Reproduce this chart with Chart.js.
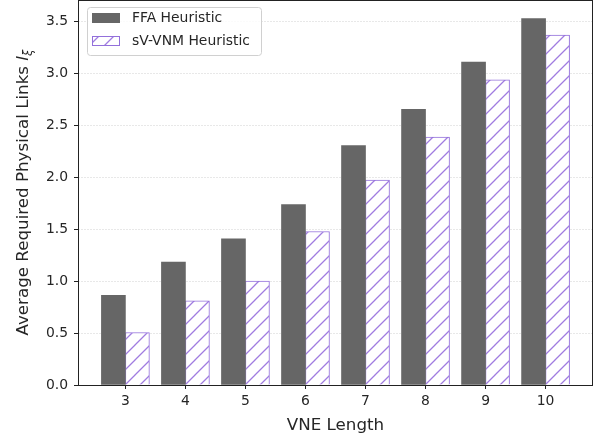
<!DOCTYPE html>
<html>
<head>
<meta charset="utf-8">
<script src="https://cdn.jsdelivr.net/npm/chart.js@4.4.1/dist/chart.umd.min.js"></script>
<style>
  html, body { margin: 0; padding: 0; background: #fff; }
  #wrap { width: 606px; height: 439px; }
</style>
</head>
<body>
<div id="wrap"><canvas id="chart" width="606" height="439"></canvas></div>
<script>
// ── Data ────────────────────────────────────────────────────────────────────────
const vneLengths   = [3, 4, 5, 6, 7, 8, 9, 10];
const ffaValues    = [0.865, 1.184, 1.409, 1.739, 2.308, 2.657, 3.112, 3.531];
const svvnmValues  = [0.506, 0.810, 1.002, 1.479, 1.975, 2.389, 2.940, 3.372];
const yTicks       = [0, 0.5, 1.0, 1.5, 2.0, 2.5, 3.0, 3.5];
const seriesNames  = ['FFA Heuristic', 'sV-VNM Heuristic'];
const xTitle       = 'VNE Length';
const yTitle       = 'Average Required Physical Links ';

const FONT   = "'DejaVu Sans', sans-serif";
const GRAY   = '#666666';
const PURPLE = '#9370db';
const INK    = '#262626';

// diagonal hatch like matplotlib '/'
function makeHatch() {
  const s = 15;
  const c = document.createElement('canvas');
  c.width = s; c.height = s;
  const g = c.getContext('2d');
  g.fillStyle = '#fff'; g.fillRect(0, 0, s, s);
  g.strokeStyle = '#a07ce0'; g.lineWidth = 1.3;
  g.beginPath();
  g.moveTo(-2, s + 2); g.lineTo(s + 2, -2);
  g.moveTo(-2, 2);     g.lineTo(2, -2);
  g.moveTo(s - 2, s + 2); g.lineTo(s + 2, s - 2);
  g.stroke();
  return document.getElementById('chart').getContext('2d').createPattern(c, 'repeat');
}
const hatch = makeHatch();

const toPoints = vals => vals.map((v, i) => ({ x: vneLengths[i], y: v }));

// spines, axis titles and legend drawn like the matplotlib figure
const decor = {
  id: 'decor',
  afterDraw(chart) {
    const { ctx, chartArea: a } = chart;
    ctx.save();
    // spines
    ctx.strokeStyle = '#222'; ctx.lineWidth = 1;
    ctx.strokeRect(Math.round(a.left) + 0.5, Math.round(a.top) + 0.5,
                   Math.round(a.right - a.left) - 1, Math.round(a.bottom - a.top));

    // x title
    ctx.fillStyle = INK;
    ctx.font = `16.7px ${FONT}`;
    ctx.textAlign = 'center'; ctx.textBaseline = 'alphabetic';
    ctx.fillText(xTitle, (a.left + a.right) / 2, 430);

    // y title with italic l and subscript xi
    ctx.translate(28, (a.top + a.bottom) / 2);
    ctx.rotate(-Math.PI / 2);
    ctx.textAlign = 'left';
    ctx.font = `16.7px ${FONT}`;
    const w1 = ctx.measureText(yTitle).width;
    ctx.font = `italic 16.7px ${FONT}`;
    const w2 = ctx.measureText('l').width;
    ctx.font = `italic 11.7px ${FONT}`;
    const w3 = ctx.measureText('ξ').width;
    let x = -(w1 + w2 + w3) / 2;
    ctx.font = `16.7px ${FONT}`;
    ctx.fillText(yTitle, x, 0); x += w1;
    ctx.font = `italic 16.7px ${FONT}`;
    ctx.fillText('l', x, 0); x += w2;
    ctx.font = `italic 11.7px ${FONT}`;
    ctx.fillText('ξ', x, 3.5);
    ctx.restore();

    // legend
    ctx.save();
    const lx = 87, ly = 7, lw = 174, lh = 48;
    ctx.fillStyle = 'rgba(255,255,255,0.8)';
    ctx.strokeStyle = '#d0d0d0'; ctx.lineWidth = 1;
    ctx.beginPath();
    ctx.roundRect(lx + 0.5, ly + 0.5, lw, lh, 3);
    ctx.fill(); ctx.stroke();
    const rows = [
      { y: 13, fill: GRAY, edge: null },
      { y: 36, fill: hatch, edge: PURPLE }
    ];
    ctx.font = `13.9px ${FONT}`;
    ctx.textAlign = 'left'; ctx.textBaseline = 'middle';
    rows.forEach((r, i) => {
      ctx.fillStyle = r.fill;
      ctx.fillRect(92, r.y, 28, 10);
      if (r.edge) {
        ctx.strokeStyle = r.edge;
        ctx.strokeRect(92.5, r.y + 0.5, 27, 9);
      }
      ctx.fillStyle = INK;
      ctx.fillText(seriesNames[i], 132, r.y + 5.5);
    });
    ctx.restore();
  }
};

new Chart(document.getElementById('chart').getContext('2d'), {
  type: 'bar',
  data: {
    datasets: [{
      label: seriesNames[0],
      data: toPoints(ffaValues),
      backgroundColor: GRAY,
      borderWidth: 0,
    }, {
      label: seriesNames[1],
      data: toPoints(svvnmValues),
      backgroundColor: hatch,
      borderColor: PURPLE,
      borderWidth: 1,
    }]
  },
  options: {
    responsive: false,
    animation: false,
    events: [],
    layout: { padding: { left: 0, right: 13, top: 0, bottom: 0 } },
    datasets: { bar: { barThickness: 24, grouped: true } },
    plugins: { legend: { display: false }, tooltip: { enabled: false } },
    scales: {
      x: {
        type: 'linear',
        min: 2.21, max: 10.79,
        offset: false,
        afterBuildTicks: s => { s.ticks = vneLengths.map(v => ({ value: v })); },
        afterFit: s => { s.height = 54; s.paddingLeft = 0; s.paddingRight = 0; },
        ticks: { color: INK, font: { family: FONT, size: 13.9 }, padding: 4, maxRotation: 0,
                 callback: v => String(v) },
        grid: { offset: false, drawOnChartArea: false, tickLength: 4, tickColor: '#222' },
        border: { display: false },
      },
      y: {
        min: 0, max: 3.71,
        afterBuildTicks: s => { s.ticks = yTicks.map(v => ({ value: v })); },
        afterFit: s => { s.width = 78; s.paddingTop = 0; s.paddingBottom = 0; },
        ticks: { color: INK, font: { family: FONT, size: 13.9 }, padding: 6,
                 callback: v => v.toFixed(1) },
        grid: { color: '#e8e8e8', lineWidth: 1, tickLength: 4, tickColor: '#222' },
        border: { display: false, dash: [2, 1] },
      }
    }
  },
  plugins: [decor]
});
</script>
</body>
</html>
